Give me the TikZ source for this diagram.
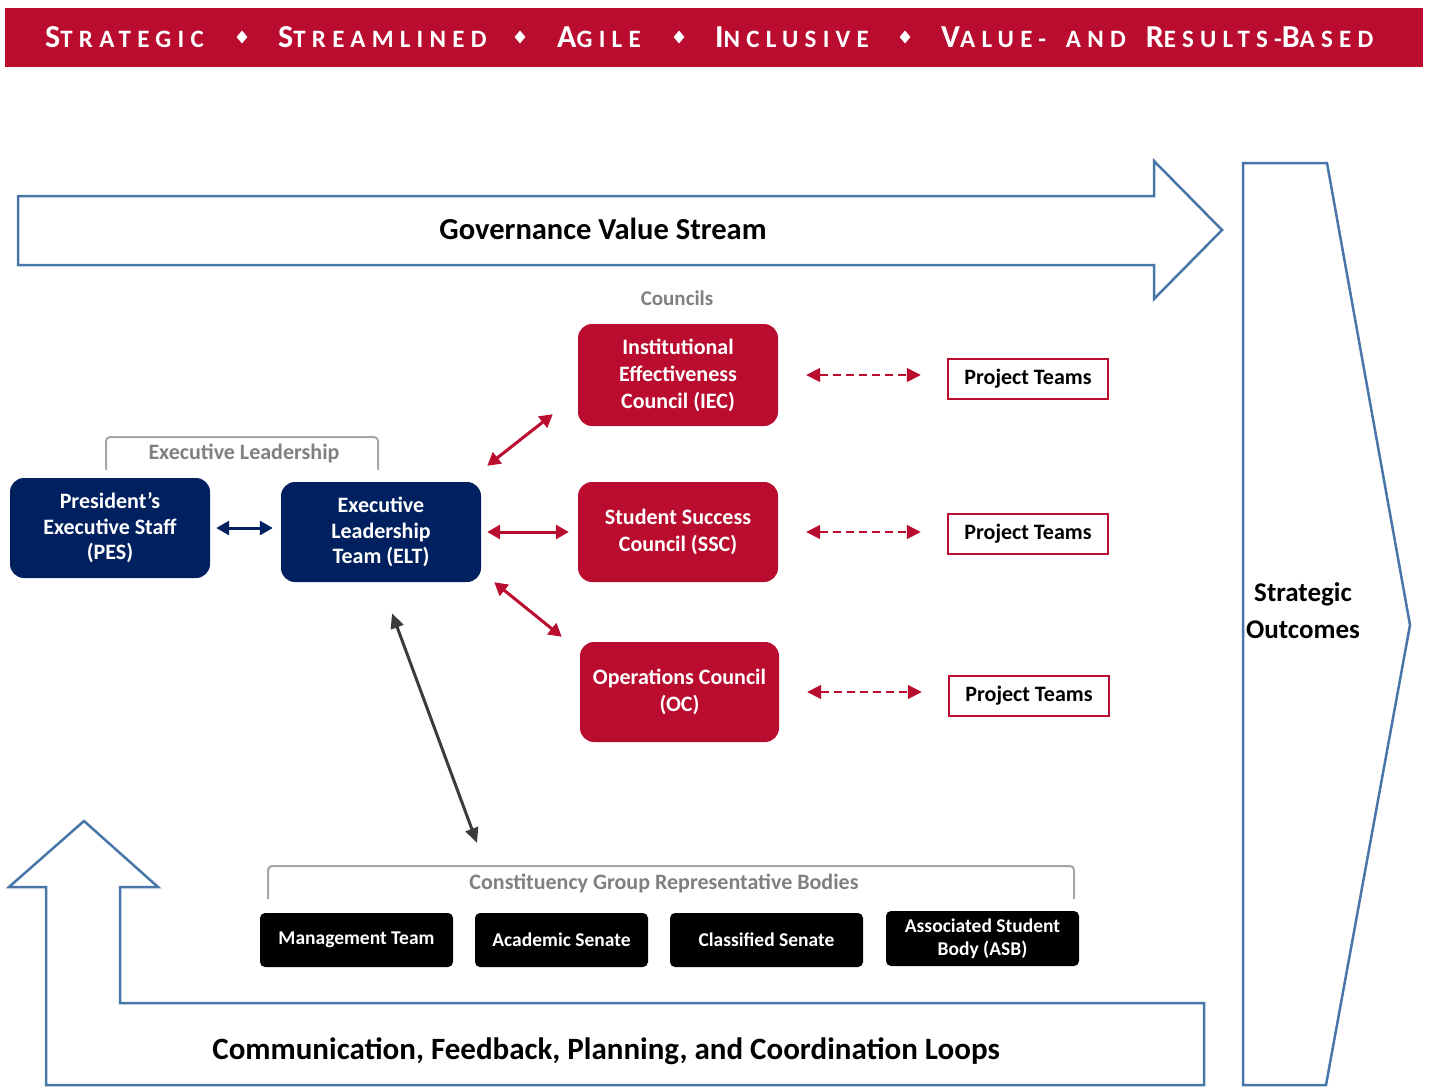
\documentclass[tikz,border=0pt]{standalone}
\usepackage{fontspec}
\setmainfont{Carlito}
\newfontfamily\hdrfont[LetterSpace=25]{Carlito}
\usetikzlibrary{arrows.meta,shapes.geometric,calc}
\definecolor{cred}{RGB}{186,12,47}
\definecolor{cnavy}{RGB}{0,32,96}
\definecolor{cblue}{RGB}{72,118,168}
\definecolor{cgraytxt}{RGB}{128,128,128}
\definecolor{cgrayline}{RGB}{166,166,166}
\definecolor{cdark}{RGB}{60,60,60}
\newcommand{\hsc}[2]{{\fontsize{32}{32}\selectfont #1}{\fontsize{25}{25}\selectfont #2}}
\tikzset{
  hdr/.style={anchor=base west, text=white, inner sep=0, font=\hdrfont\bfseries\fontsize{25}{25}\selectfont},
  hdia/.style={diamond, fill=white, minimum width=11pt, minimum height=13pt, inner sep=0},
  navybox/.style={fill=cnavy, rounded corners=14pt, minimum width=200pt, minimum height=100pt, text=white, inner sep=0, align=center, font=\bfseries\fontsize{22}{25.5}\selectfont},
  redbox/.style={fill=cred, rounded corners=14pt, minimum width=200pt, minimum height=100pt, text=white, inner sep=0, align=center, font=\bfseries\fontsize{22}{27}\selectfont},
  ptbox/.style={draw=cred, line width=2.5pt, fill=white, minimum width=160pt, minimum height=40pt, inner sep=0, font=\bfseries\fontsize{22}{24}\selectfont},
  blkbox/.style={fill=black, rounded corners=5pt, minimum height=54pt, text=white, inner sep=0, align=center, font=\bfseries\fontsize{19.5}{23}\selectfont},
  graylbl/.style={text=cgraytxt, inner sep=0, font=\bfseries\fontsize{22}{22}\selectfont},
  bigtxt/.style={inner sep=0, font=\bfseries\fontsize{30.5}{30.5}\selectfont},
  blueshape/.style={draw=cblue, line width=2.5pt, line join=miter},
  bracket/.style={draw=cgrayline, line width=2pt, rounded corners=4pt},
  redarr/.style={{Triangle[length=13pt,width=14pt]}-{Triangle[length=13pt,width=14pt]}, line width=3pt, cred},
  navyarr/.style={{Triangle[length=13pt,width=14pt]}-{Triangle[length=13pt,width=14pt]}, line width=3pt, cnavy},
  dasharr/.style={{Triangle[length=14pt,width=14pt]}-{Triangle[length=14pt,width=14pt]}, line width=1.6pt, cred, dash pattern=on 8pt off 5pt},
  darkarr/.style={{Triangle[length=15pt,width=13pt]}-{Triangle[length=15pt,width=13pt]}, line width=3pt, cdark}
}
\begin{document}
\begin{tikzpicture}[x=1pt,y=-1pt]
\useasboundingbox (0,0) rectangle (1429,1087);
% header band
\fill[cred] (5,8) rectangle (1423,67);
\node[hdr] (h1) at (45,47) {\hsc{S}{TRATEGIC}};
\node[hdia] (d1) at (242,37) {};
\node[hdr] (h2) at (278,47) {\hsc{S}{TREAMLINED}};
\node[hdia] (d2) at (520,37) {};
\node[hdr] (h3) at (557,47) {\hsc{A}{GILE}};
\node[hdia] (d3) at (679,37) {};
\node[hdr] (h4) at (715,47) {\hsc{I}{NCLUSIVE}};
\node[hdia] (d4) at (905,37) {};
\node[hdr] (h5) at (941,47) {\hsc{V}{ALUE-}\hspace{20pt}\hsc{}{AND}\hspace{20pt}\hsc{R}{ESULTS-}\hsc{B}{ASED}};
% governance value stream arrow
\draw[blueshape] (18,196) -- (1154,196) -- (1154,161) -- (1222,230) -- (1154,299) -- (1154,265) -- (18,265) -- cycle;
\node[bigtxt] (gvs) at (603,229) {Governance Value Stream};
% strategic outcomes
\draw[blueshape] (1243,163) -- (1327,163) -- (1410,625) -- (1326,1085) -- (1243,1085) -- cycle;
\node[align=center, inner sep=0, font=\bfseries\fontsize{27}{37}\selectfont] (so) at (1303,611) {Strategic\\Outcomes};
% loop arrow
\draw[blueshape] (84,821) -- (158,887) -- (120,887) -- (120,1003) -- (1204,1003) -- (1204,1085) -- (46,1085) -- (46,887) -- (9,887) -- cycle;
\node[bigtxt, font=\bfseries\fontsize{31}{31}\selectfont] (cfl) at (606,1051) {Communication, Feedback, Planning, and Coordination Loops};
% executive leadership
\draw[bracket] (106,470) -- (106,437) -- (378,437) -- (378,470);
\node[graylbl] (el) at (244,453) {Executive Leadership};
\node[navybox] (pes) at (110,528) {President’s\\Executive Staff\\(PES)};
\node[navybox] (elt) at (381,532) {Executive\\Leadership\\Team (ELT)};
% councils
\node[graylbl, font=\bfseries\fontsize{21}{21}\selectfont] (cl) at (677,298) {Councils};
\node[redbox, minimum height=102pt] (iec) at (678,375) {Institutional\\Effectiveness\\Council (IEC)};
\node[redbox] (ssc) at (678,532) {Student Success\\Council (SSC)};
\node[redbox, minimum width=199pt] (oc) at (679.5,692) {Operations Council\\(OC)};
% project teams
\node[ptbox] (pt1) at (1028,379) {Project Teams};
\node[ptbox] (pt2) at (1028,534) {Project Teams};
\node[ptbox] (pt3) at (1029,696) {Project Teams};
% constituency
\draw[bracket] (268,899) -- (268,866) -- (1074,866) -- (1074,899);
\node[graylbl] (cg) at (664,883) {Constituency Group Representative Bodies};
\node[blkbox, minimum width=193pt] (mt) at (356.5,940) {Management Team};
\node[blkbox, minimum width=173pt] (as) at (561.5,940) {Academic Senate};
\node[blkbox, minimum width=193pt] (cs) at (766.5,940) {Classified Senate};
\node[blkbox, minimum width=193pt, minimum height=55pt] (asb) at (982.5,938.5) {Associated Student\\Body (ASB)};
\coordinate (cgtip) at (477,843);
% connectors
\draw[navyarr] ([xshift=6pt]pes.east) -- ([xshift=-8pt]pes.east -| elt.west);
\draw[redarr] ([shift={(6,-16)}]elt.north east) -- ([shift={(-25,-12)}]iec.south west);
\draw[redarr] ([xshift=6pt]elt.east) -- ([xshift=-9pt]ssc.west);
\draw[redarr] ([shift={(13,0)}]elt.south east) -- ([shift={(-18,-5)}]oc.north west);
\draw[dasharr] ([xshift=28pt]iec.east) -- ([xshift=-26pt]iec.east -| pt1.west);
\draw[dasharr] ([xshift=28pt]ssc.east) -- ([xshift=-26pt]ssc.east -| pt2.west);
\draw[dasharr] ([xshift=28pt]oc.east) -- ([xshift=-26pt]oc.east -| pt3.west);
\draw[darkarr] ([shift={(11,31)}]elt.south) -- (cgtip);
\end{tikzpicture}
\end{document}
